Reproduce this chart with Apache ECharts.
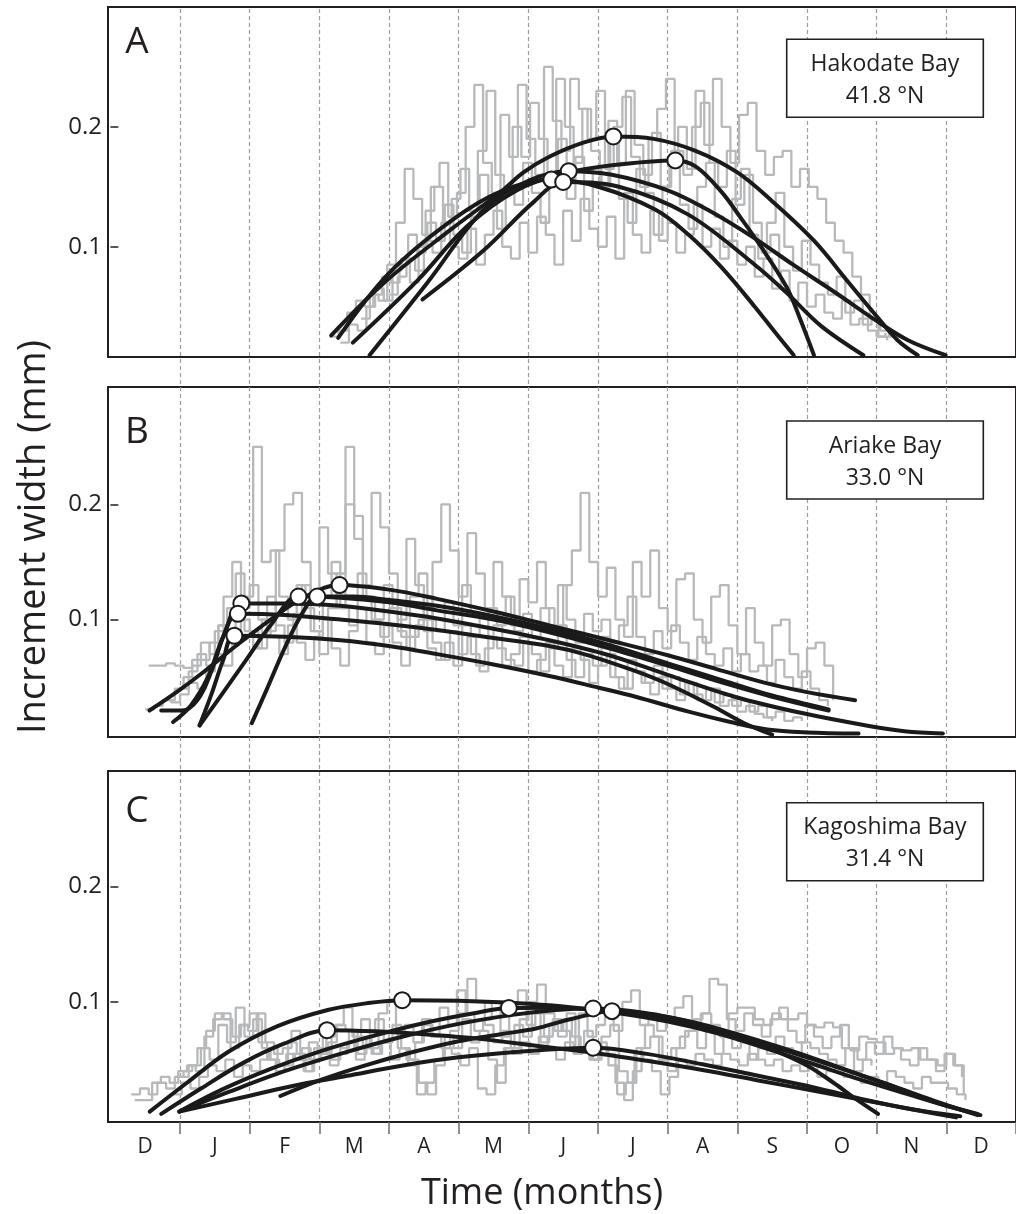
<!DOCTYPE html>
<html><head><meta charset="utf-8">
<script src="https://cdn.jsdelivr.net/npm/echarts@6/dist/echarts.min.js"></script>
<style>html,body{margin:0;padding:0;background:#fff}#c{width:1016px;height:1214px}</style>
</head><body><div id="c"></div>
<script>
// ---------- tick labels ----------
const monthLabels = ['D','J','F','M','A','M','J','J','A','S','O','N','D'];
const yTickValues = [0.1, 0.2];
const panelLetters = ['A','B','C'];
const siteNames = ['Hakodate Bay','Ariake Bay','Kagoshima Bay'];
const siteLats = ['41.8 \u00B0N','33.0 \u00B0N','31.4 \u00B0N'];
const grayStep = 0.125; // months between successive increment readings

// ---------- Panel A : Hakodate Bay ----------
const grayStartA = [3.15, 3.3, 3.6, 4.0];
const grayA1 = [.025,.030,.045,.055,.050,.060,.075,.070,.085,.110,.095,.130,.150,.120,.140,.165,.130,.180,.230,.160,.150,.200,.175,.220,.190,.160,.240,.200,.170,.215,.180,.150,.205,.170,.230,.185,.160,.195,.150,.175,.200,.165,.230,.185,.240,.200,.170,.210,.220,.180,.160,.175,.180,.150,.165,.150,.140,.120,.105,.095,.075,.060,.040,.025,.022];
const grayA2 = [.020,.035,.030,.050,.065,.055,.080,.090,.070,.100,.120,.105,.135,.110,.095,.125,.160,.140,.115,.150,.135,.170,.145,.120,.160,.190,.140,.175,.130,.165,.150,.190,.140,.120,.165,.145,.110,.150,.180,.135,.115,.150,.170,.125,.100,.140,.165,.110,.090,.120,.145,.100,.080,.105,.085,.070,.060,.075,.045,.055,.035,.040,.030,.025,.022];
const grayA3 = [.040,.060,.055,.085,.120,.165,.140,.110,.150,.170,.125,.145,.200,.235,.170,.145,.210,.175,.235,.190,.160,.250,.205,.180,.240,.215,.190,.230,.165,.200,.225,.175,.150,.190,.215,.240,.180,.160,.200,.220,.170,.150,.180,.135,.160,.120,.095,.110,.080];
const grayA4 = [.060,.075,.090,.080,.105,.095,.120,.100,.090,.115,.085,.110,.130,.100,.090,.120,.095,.125,.110,.085,.130,.105,.140,.115,.100,.125,.090,.145,.110,.095,.130,.105,.120,.095,.110,.135,.100,.115,.090,.105,.085,.100,.075,.090,.065,.080,.055,.070,.050,.060,.045,.040,.055,.035,.040,.030,.025,.028];
const fitA1 = [[3.17,0.026],[3.93,0.070],[4.88,0.114],[5.59,0.145],[5.93,0.162],[6.3,0.175],[6.8,0.187],[7.22,0.192],[7.8,0.190],[8.4,0.180],[9.0,0.162],[9.5,0.138],[10.1,0.105],[10.6,0.070],[11.0,0.042],[11.3,0.022],[11.59,0.0095]];
const fitA2 = [[3.48,0.020],[4.41,0.072],[5.12,0.117],[5.83,0.147],[6.5,0.161],[7.2,0.168],[8.11,0.172],[8.4,0.167],[8.77,0.146],[9.05,0.124],[9.34,0.100],[9.71,0.066],[9.9,0.040],[10.1,0.0095]];
const fitA3 = [[3.72,0.0095],[4.55,0.070],[5.36,0.131],[6.0,0.155],[6.58,0.163],[7.2,0.160],[8.0,0.147],[8.6,0.130],[9.25,0.107],[9.8,0.085],[10.4,0.062],[10.95,0.040],[11.45,0.022],[11.99,0.0095]];
const fitA4 = [[3.27,0.024],[4.0,0.078],[4.9,0.122],[5.6,0.146],[6.33,0.156],[7.0,0.150],[7.82,0.131],[8.3,0.110],[8.77,0.083],[9.25,0.050],[9.55,0.028],[9.81,0.0095]];
const fitA5 = [[4.48,0.056],[5.36,0.097],[6.07,0.137],[6.50,0.154],[7.3,0.150],[8.29,0.127],[9.25,0.085],[9.7,0.062],[10.2,0.034],[10.81,0.0095]];
const peaksA = [[7.22,0.192],[8.11,0.172],[6.58,0.163],[6.33,0.156],[6.50,0.154]];

// ---------- Panel B : Ariake Bay ----------
const grayStartB = [0.55, 0.5, 1.0, 0.8];
const grayB1 = [.060,.060,.062,.060,.058,.060,.065,.080,.095,.110,.140,.120,.250,.150,.160,.120,.100,.130,.110,.090,.120,.150,.110,.095,.140,.120,.100,.130,.110,.085,.120,.140,.100,.090,.115,.095,.130,.105,.085,.110,.095,.120,.090,.105,.085,.110,.095,.130,.100,.080,.105,.090,.100,.080,.095,.120,.085,.070,.090,.075,.095,.080,.065,.085,.070,.060,.075,.055,.070,.055,.060,.045,.065,.050,.040,.055,.040,.030,.025];
const grayB2 = [.022,.025,.030,.028,.035,.045,.040,.055,.070,.060,.085,.100,.090,.075,.120,.095,.080,.105,.130,.090,.070,.110,.140,.250,.190,.120,.100,.085,.110,.090,.075,.095,.120,.080,.065,.090,.070,.085,.060,.075,.095,.060,.070,.085,.055,.065,.080,.060,.050,.075,.065,.045,.060,.070,.050,.040,.055,.045,.035,.050,.040,.030,.045,.035,.030,.040,.025,.030,.020,.025,.018,.015,.012];
const grayB3 = [.040,.055,.070,.060,.090,.120,.150,.110,.130,.100,.090,.160,.200,.210,.150,.120,.180,.140,.110,.200,.170,.130,.210,.180,.140,.100,.170,.130,.090,.150,.200,.160,.120,.175,.140,.110,.150,.120,.095,.135,.115,.150,.110,.090,.130,.160,.210,.150,.120,.145,.100,.085,.150,.120,.160,.110,.090,.135,.140,.100,.080,.120,.130,.095,.070,.110,.080,.060,.095,.100,.070,.050,.075,.080,.060,.030];
const grayB4 = [.030,.040,.050,.065,.080,.070,.095,.085,.110,.090,.075,.100,.085,.070,.095,.080,.065,.085,.100,.075,.060,.090,.110,.080,.070,.095,.080,.060,.085,.100,.075,.065,.080,.060,.095,.070,.055,.085,.075,.065,.060,.080,.070,.055,.075,.095,.065,.050,.070,.060,.085,.050,.040,.065,.055,.045,.060,.040,.050,.035,.045,.030,.040,.028,.035,.025,.030,.020,.025,.015,.020,.012,.015,.012];
const fitB1 = [[0.56,0.021],[0.95,0.037],[1.37,0.056],[1.8,0.077],[2.3,0.100],[2.8,0.120],[3.29,0.130],[4.0,0.126],[4.69,0.118],[5.5,0.107],[6.3,0.095],[7.16,0.082],[8.0,0.069],[8.7,0.057],[9.4,0.045],[10.0,0.037],[10.69,0.030]];
const fitB2 = [[2.03,0.010],[2.25,0.040],[2.5,0.075],[2.75,0.105],[2.97,0.120],[3.5,0.120],[4.0,0.117],[4.69,0.112],[5.5,0.103],[6.3,0.092],[7.16,0.078],[8.0,0.062],[8.8,0.047],[9.5,0.034],[10.31,0.022]];
const fitB3 = [[1.28,0.008],[1.6,0.035],[1.95,0.065],[2.3,0.095],[2.70,0.120],[3.3,0.119],[4.0,0.115],[4.69,0.108],[5.5,0.100],[6.3,0.089],[7.16,0.075],[8.0,0.060],[8.8,0.045],[9.5,0.033],[10.31,0.021]];
const fitB4 = [[0.73,0.021],[1.03,0.021],[1.25,0.030],[1.45,0.055],[1.65,0.090],[1.88,0.114],[2.5,0.114],[3.3,0.112],[4.0,0.107],[4.69,0.101],[5.5,0.092],[6.3,0.082],[7.16,0.069],[8.0,0.052],[8.96,0.033],[9.91,0.019],[10.85,0.008],[11.4,0.003],[11.95,0.001]];
const fitB5 = [[0.90,0.011],[1.15,0.025],[1.4,0.050],[1.62,0.085],[1.83,0.105],[2.5,0.104],[3.3,0.100],[4.0,0.096],[4.69,0.091],[5.5,0.084],[6.3,0.077],[6.8,0.070],[7.5,0.056],[8.0,0.044],[8.67,0.024],[9.1,0.010],[9.50,0.0]];
const fitB6 = [[1.28,0.008],[1.45,0.035],[1.62,0.065],[1.78,0.086],[2.5,0.085],[3.3,0.082],[4.0,0.077],[4.69,0.070],[5.5,0.061],[6.3,0.051],[7.0,0.041],[7.54,0.033],[8.3,0.020],[8.9,0.011],[9.43,0.0045],[10.0,0.002],[10.74,0.001]];
const peaksB = [[3.29,0.130],[2.97,0.120],[2.70,0.120],[1.88,0.114],[1.83,0.105],[1.78,0.086]];

// ---------- Panel C : Kagoshima Bay ----------
const grayStartC = [0.35, 0.3, 1.0, 0.9];
const grayC1 = [.015,.015,.030,.035,.030,.040,.045,.040,.070,.085,.090,.060,.080,.075,.090,.065,.055,.060,.075,.050,.065,.055,.070,.080,.095,.070,.085,.060,.090,.100,.075,.080,.065,.085,.070,.095,.080,.110,.090,.075,.085,.100,.070,.095,.110,.080,.090,.070,.085,.075,.060,.090,.070,.080,.095,.075,.100,.110,.080,.090,.075,.085,.095,.105,.080,.090,.120,.115,.085,.075,.090,.080,.070,.085,.095,.075,.065,.080,.070,.060,.070,.080,.060,.050,.065,.055,.070,.060,.050,.045,.060,.050,.040,.055,.045,.035];
const grayC2 = [.020,.025,.020,.030,.025,.035,.040,.045,.060,.050,.080,.065,.095,.070,.085,.060,.050,.045,.065,.055,.040,.060,.070,.050,.060,.075,.055,.070,.085,.065,.080,.060,.050,.030,.020,.045,.070,.060,.085,.065,.075,.050,.030,.060,.080,.070,.090,.065,.080,.070,.090,.060,.075,.050,.070,.080,.040,.030,.060,.080,.070,.050,.060,.070,.075,.060,.080,.055,.070,.060,.065,.050,.060,.055,.070,.060,.050,.065,.060,.055,.050,.045,.060,.040,.050,.045];
const grayC3 = [.035,.045,.060,.075,.090,.085,.070,.080,.090,.065,.050,.040,.045,.055,.060,.050,.055,.065,.080,.075,.060,.070,.055,.065,.075,.060,.050,.065,.080,.070,.060,.075,.090,.120,.100,.080,.065,.075,.060,.085,.100,.115,.090,.075,.085,.070,.060,.050,.065,.055,.030,.015,.040,.060,.070,.050,.040,.060,.075,.085,.090,.080,.070,.090,.095,.095,.085,.080,.090,.085,.085,.090,.080,.078,.082,.078,.060,.058,.070,.068,.065,.055,.060,.058,.060,.050,.050,.045,.055,.045,.020];
const grayC4 = [.020,.030,.025,.035,.045,.040,.050,.035,.045,.040,.050,.060,.045,.055,.050,.040,.050,.060,.045,.055,.065,.050,.060,.055,.065,.050,.060,.045,.020,.030,.050,.060,.055,.045,.060,.025,.020,.045,.060,.055,.065,.055,.070,.060,.050,.065,.055,.060,.050,.060,.045,.020,.030,.055,.050,.040,.020,.035,.050,.045,.055,.050,.045,.055,.050,.045,.055,.050,.045,.050,.040,.045,.040,.045,.035,.040,.045,.035,.040,.030,.035,.030,.040,.035,.030,.025,.035,.030,.030,.025,.020,.015];
const fitC1 = [[0.565,0.005],[1.1,0.030],[1.7,0.057],[2.4,0.079],[3.12,0.093],[3.7,0.099],[4.19,0.1015],[5.0,0.101],[5.8,0.099],[6.5,0.096],[7.2,0.091],[8.0,0.083],[8.7,0.073],[9.4,0.060],[10.1,0.046],[10.8,0.032],[11.5,0.019],[12.0,0.010],[12.49,0.002]];
const fitC2 = [[0.73,0.003],[1.3,0.025],[1.9,0.047],[2.5,0.064],[3.11,0.0755],[3.8,0.0745],[4.5,0.072],[5.3,0.068],[6.11,0.062],[6.93,0.056],[7.7,0.049],[8.5,0.041],[9.3,0.032],[10.1,0.023],[10.9,0.014],[11.6,0.006],[12.14,0.0]];
const fitC3 = [[0.99,0.005],[1.6,0.024],[2.3,0.042],[3.0,0.057],[3.8,0.071],[4.6,0.083],[5.2,0.090],[5.72,0.0948],[6.4,0.095],[7.0,0.093],[7.6,0.089],[8.2,0.082],[8.8,0.073],[9.4,0.063],[10.0,0.052],[10.6,0.040],[11.2,0.028],[11.8,0.015],[12.45,0.002]];
const fitC4 = [[0.99,0.005],[1.7,0.022],[2.5,0.040],[3.3,0.055],[4.2,0.070],[5.0,0.081],[5.8,0.089],[6.4,0.093],[6.93,0.0943],[7.5,0.092],[8.0,0.087],[8.5,0.080],[9.0,0.071],[9.5,0.059],[10.0,0.045],[10.38,0.030],[10.7,0.016],[11.02,0.003]];
const fitC5 = [[0.99,0.005],[1.8,0.016],[2.6,0.027],[3.4,0.036],[4.2,0.045],[5.0,0.052],[6.11,0.058],[6.93,0.0603],[7.7,0.055],[8.5,0.046],[9.3,0.036],[10.1,0.026],[10.85,0.015],[11.5,0.007],[12.2,0.001]];
const fitC6 = [[2.44,0.0185],[3.0,0.032],[3.6,0.044],[4.3,0.056],[5.0,0.066],[5.6,0.072],[6.11,0.077],[6.6,0.085],[7.20,0.092],[7.8,0.089],[8.4,0.082],[9.0,0.072],[9.6,0.061],[10.2,0.049],[10.8,0.036],[11.4,0.023],[11.9,0.012],[12.45,0.003]];
const peaksC = [[4.19,0.1015],[3.11,0.0755],[5.72,0.0948],[6.93,0.0943],[7.20,0.092],[6.93,0.0603]];

// ---------- assemble ----------
const panels = [
  {grayStart: grayStartA, gray: [grayA1, grayA2, grayA3, grayA4], fits: [fitA1, fitA2, fitA3, fitA4, fitA5], peaks: peaksA},
  {grayStart: grayStartB, gray: [grayB1, grayB2, grayB3, grayB4], fits: [fitB1, fitB2, fitB3, fitB4, fitB5, fitB6], peaks: peaksB},
  {grayStart: grayStartC, gray: [grayC1, grayC2, grayC3, grayC4], fits: [fitC1, fitC2, fitC3, fitC4, fitC5, fitC6], peaks: peaksC}
];
function timeSeries(start, vals) { return vals.map((v, i) => [start + i * grayStep, v]); }

const FONT = '"Open Sans", "Noto Sans", sans-serif';
const INK = '#231f20';
const GRAY = '#b7b9bb';
const BLACK = '#1a1a1a';
const gridBox = [{top: 7, height: 350}, {top: 387, height: 350}, {top: 771, height: 351}];
const yRange = [[0.008, 0.300], [-0.002, 0.302], [-0.004, 0.300]];

const grids = gridBox.map(g => ({left: 108, width: 915.9, top: g.top, height: g.height, show: true, borderColor: INK, borderWidth: 2}));
grids.push({left: 110.4, width: 913.5, top: 9, height: 1113, show: false});

const xAxes = [0, 1, 2].map(i => ({type: 'value', gridIndex: i, min: -0.034, max: 13, show: false}));
xAxes.push({type: 'value', gridIndex: 3, min: 0, max: 13, interval: 1, position: 'top',
  axisLine: {show: false}, axisTick: {show: false}, axisLabel: {show: false},
  splitLine: {show: true, showMinLine: false, showMaxLine: false, lineStyle: {color: '#9d9d9d', width: 1.2, type: [4, 3]}}});
xAxes.push({type: 'category', gridIndex: 3, position: 'bottom', data: monthLabels, boundaryGap: true,
  axisLine: {show: false},
  axisTick: {show: true, length: 12, interval: (idx) => idx !== 0, lineStyle: {color: '#6d6e71', width: 1.5}},
  axisLabel: {fontSize: 21, fontFamily: FONT, color: INK, margin: 15},
  splitLine: {show: false}});

const yAxes = [0, 1, 2].map(i => ({type: 'value', gridIndex: i, min: yRange[i][0], max: yRange[i][1],
  axisLine: {show: false}, splitLine: {show: false},
  axisTick: {show: true, inside: true, length: 8, customValues: yTickValues, lineStyle: {color: INK, width: 1.5}},
  axisLabel: {customValues: yTickValues, fontSize: 24, fontFamily: FONT, color: INK, margin: 6, formatter: v => v.toFixed(1)}}));
yAxes.push({type: 'value', gridIndex: 3, min: 0, max: 1, show: false});

const series = [];
panels.forEach((p, i) => {
  p.gray.forEach((vals, k) => series.push({type: 'line', xAxisIndex: i, yAxisIndex: i, data: timeSeries(p.grayStart[k], vals),
    step: 'end', symbol: 'none', silent: true, z: 2, lineStyle: {color: GRAY, width: 2.3}}));
});
panels.forEach((p, i) => {
  p.fits.forEach(f => series.push({type: 'line', xAxisIndex: i, yAxisIndex: i, data: f, smooth: 0.35,
    symbol: 'none', silent: true, z: 3, lineStyle: {color: BLACK, width: 4, cap: 'round', join: 'round'}}));
});
panels.forEach((p, i) => {
  series.push({type: 'scatter', xAxisIndex: i, yAxisIndex: i, data: p.peaks, symbol: 'circle', symbolSize: 16, z: 4, silent: true,
    itemStyle: {color: '#ffffff', opacity: 1, borderColor: BLACK, borderWidth: 2}});
});

const letterY = [42, 432, 811];
const boxTop = [39.3, 421, 802.7];
const graphic = [];
panels.forEach((p, i) => {
  graphic.push({type: 'text', x: 137, y: letterY[i], z: 100, style: {text: panelLetters[i], font: '37px ' + FONT, fill: INK, textAlign: 'center', textVerticalAlign: 'middle'}});
  graphic.push({type: 'rect', z: 100, shape: {x: 786.7, y: boxTop[i], width: 196.6, height: 78}, style: {fill: '#ffffff', stroke: INK, lineWidth: 1.6}});
  graphic.push({type: 'text', x: 885, y: boxTop[i] + 25, z: 101, style: {text: siteNames[i], font: '23px ' + FONT, fill: INK, textAlign: 'center', textVerticalAlign: 'middle'}});
  graphic.push({type: 'text', x: 885, y: boxTop[i] + 57, z: 101, style: {text: siteLats[i], font: '23px ' + FONT, fill: INK, textAlign: 'center', textVerticalAlign: 'middle'}});
});
graphic.push({type: 'text', x: 34, y: 537, rotation: Math.PI / 2, z: 100, style: {text: 'Increment width (mm)', font: '38px ' + FONT, fill: INK, textAlign: 'center', textVerticalAlign: 'middle'}});
graphic.push({type: 'text', x: 542, y: 1194, z: 100, style: {text: 'Time (months)', font: '36px ' + FONT, fill: INK, textAlign: 'center', textVerticalAlign: 'middle'}});

const chart = echarts.init(document.getElementById('c'), null, {renderer: 'canvas'});
chart.setOption({animation: false, backgroundColor: '#ffffff', grid: grids, xAxis: xAxes, yAxis: yAxes, series: series, graphic: graphic});
</script></body></html>
